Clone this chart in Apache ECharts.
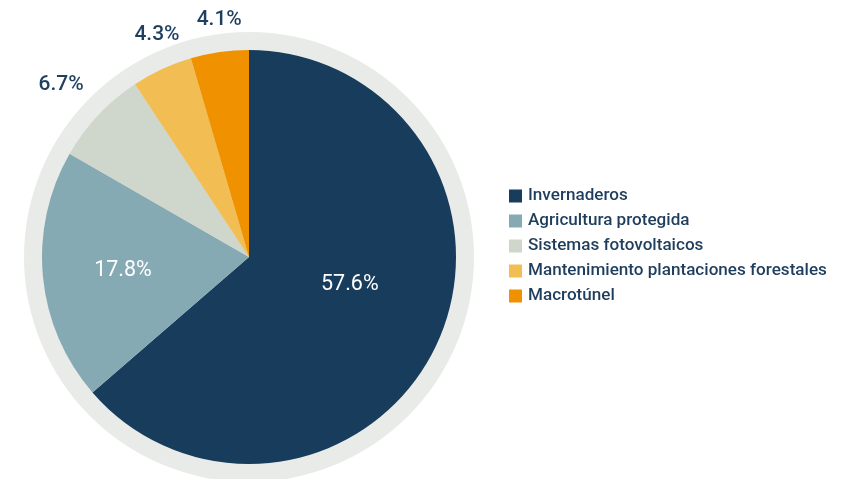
<!DOCTYPE html>
<html>
<head>
<meta charset="utf-8">
<script src="https://cdn.jsdelivr.net/npm/echarts@6/dist/echarts.min.js"></script>
<style>
  html, body { margin: 0; padding: 0; background: #ffffff; }
  #chart { width: 843px; height: 479px; }
</style>
</head>
<body>
<div id="chart"></div>
<script>
// Categories and their shares (percent labels as published)
const categories = [
  'Invernaderos',
  'Agricultura protegida',
  'Sistemas fotovoltaicos',
  'Mantenimiento plantaciones forestales',
  'Macrotúnel'
];
const shares = [57.6, 17.8, 6.7, 4.3, 4.1];
const colors = ['#173c5c', '#86aab4', '#cfd6cc', '#f2bd52', '#f09100'];

// Label placement per slice: large slices carry the label inside, small ones outside
const insideSlice = [true, true, false, false, false];
const labelOffsets = [[4, -17], [-20, 3], [5, -17], [31, -16], [30, -13]];

const center = [249, 257];
const pieRadius = 207;
const ringRadius = 225;

const chart = echarts.init(document.getElementById('chart'));

const pieData = categories.map((name, i) => ({
  name: name,
  value: shares[i],
  itemStyle: { color: colors[i] },
  label: insideSlice[i]
    ? { position: 'inside', color: '#ffffff', fontWeight: 400, fontSize: 21.5, offset: labelOffsets[i] }
    : { position: 'outside', color: '#1f3f5f', fontWeight: 500, fontSize: 21, offset: labelOffsets[i] }
}));

chart.setOption({
  animation: false,
  legend: {
    orient: 'vertical',
    left: 504,
    top: 182,
    itemWidth: 13,
    itemHeight: 13,
    itemGap: 7,
    icon: 'rect',
    data: categories,
    textStyle: {
      fontFamily: 'Roboto',
      fontSize: 17.1,
      lineHeight: 18,
      fontWeight: 500,
      color: '#1f3d5c',
      padding: [0, 0, 0, 1]
    }
  },
  series: [
    {
      // light backdrop ring around the pie
      type: 'pie',
      silent: true,
      center: center,
      radius: [0, ringRadius],
      label: { show: false },
      labelLine: { show: false },
      data: [{ value: 1, name: '', itemStyle: { color: '#e9ebe8' } }],
      legendHoverLink: false
    },
    {
      type: 'pie',
      center: center,
      radius: [0, pieRadius],
      startAngle: 90,
      clockwise: true,
      avoidLabelOverlap: false,
      label: {
        show: true,
        fontFamily: 'Roboto',
        formatter: p => p.value.toFixed(1) + '%'
      },
      labelLine: { show: false, length: 20, length2: 0 },
      data: pieData
    }
  ]
});
</script>
</body>
</html>
